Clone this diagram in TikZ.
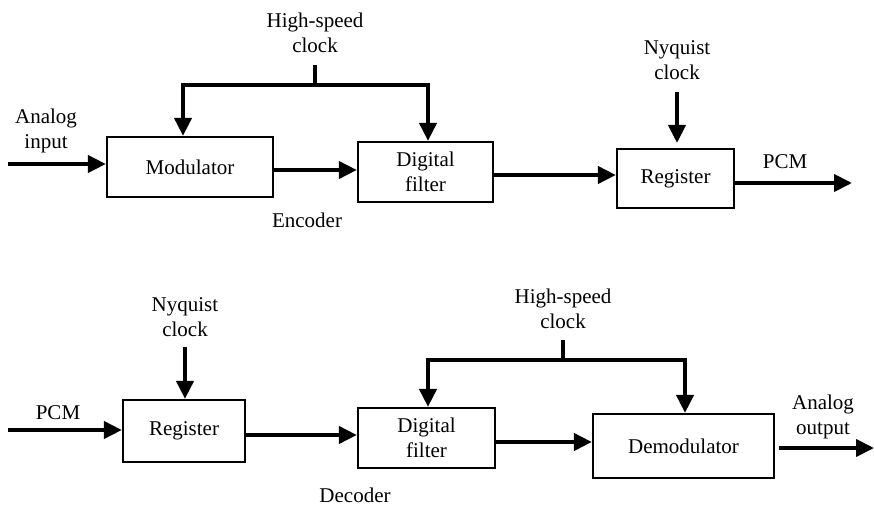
\documentclass[tikz,border=0pt]{standalone}
\usepackage{fontspec}
\setmainfont{Liberation Serif}
\usetikzlibrary{arrows.meta}
\begin{document}
\begin{tikzpicture}[x=1pt,y=-1pt,
  blk/.style={draw,line width=2.2pt,inner sep=0pt,font=\fontsize{21}{25}\selectfont,align=center},
  lbl/.style={inner sep=0pt,font=\fontsize{21}{25}\selectfont,align=center},
  wire/.style={line width=4pt},
  arr/.style={line width=4pt,-{Triangle[length=18pt,width=17pt]}}]
\useasboundingbox (0,0) rectangle (874,505);

% ---------- encoder ----------
\node[blk,minimum width=166pt,minimum height=60pt] (mod) at (190,167) {Modulator};
\node[blk,minimum width=135pt,minimum height=60pt] (efilt) at (425.5,172) {Digital\\filter};
\node[blk,minimum width=117pt,minimum height=59pt] (ereg) at (675.5,178.5) {Register};

\node[lbl] (ain) at (46,131) {Analog\\input};
\node[lbl] (ehs) at (315,33) {High-speed\\clock};
\node[lbl] (eny) at (677,60) {Nyquist\\clock};
\node[lbl] (epcm) at (785,162) {PCM};
\node[lbl] (enc) at (307,220) {Encoder};

\coordinate (ainstart) at (8,164);
\coordinate (pcmout) at (852,183);
\coordinate (ehsa) at (315,65);
\coordinate (ehsb) at (315,85);
\coordinate (enya) at (677,92);

\draw[arr] (ainstart) -- (mod.west |- ainstart);
\draw[arr] (mod.east |- 0,170) -- (efilt.west |- 0,170);
\draw[arr] (efilt.east |- 0,175) -- (ereg.west |- 0,175);
\draw[arr] (ereg.east |- pcmout) -- (pcmout);
\draw[wire] (ehsa) -- (ehsb);
\draw[arr] (ehsb) -| (183,0 |- mod.north);
\draw[arr] (ehsb) -| (428,0 |- efilt.north);
\draw[arr] (enya) -- (enya |- 0,143);

% ---------- decoder ----------
\node[blk,minimum width=122pt,minimum height=62pt] (dreg) at (184,431) {Register};
\node[blk,minimum width=137pt,minimum height=60pt] (dfilt) at (426.5,438) {Digital\\filter};
\node[blk,minimum width=181pt,minimum height=64pt] (demod) at (683.5,446) {Demodulator};

\node[lbl] (dpcm) at (58,413) {PCM};
\node[lbl] (dny) at (185,317) {Nyquist\\clock};
\node[lbl] (dec) at (355,495) {Decoder};
\node[lbl] (dhs) at (563,309) {High-speed\\clock};
\node[lbl] (aout) at (823,417) {Analog\\output};

\coordinate (pcmin) at (8,430);
\coordinate (aoutend) at (874,448);
\coordinate (dhsa) at (563,340);
\coordinate (dhsb) at (563,360);
\coordinate (dnya) at (185,347);

\draw[arr] (pcmin) -- (dreg.west |- pcmin);
\draw[arr] (dreg.east |- 0,435) -- (dfilt.west |- 0,435);
\draw[arr] (dfilt.east |- 0,442) -- (demod.west |- 0,442);
\draw[arr] ([xshift=4pt]demod.east |- aoutend) -- (aoutend);
\draw[wire] (dhsa) -- (dhsb);
\draw[arr] (dhsb) -| (428,0 |- dfilt.north);
\draw[arr] (dhsb) -| (685,0 |- demod.north);
\draw[arr] (dnya) -- (dreg.north -| dnya);
\end{tikzpicture}
\end{document}
